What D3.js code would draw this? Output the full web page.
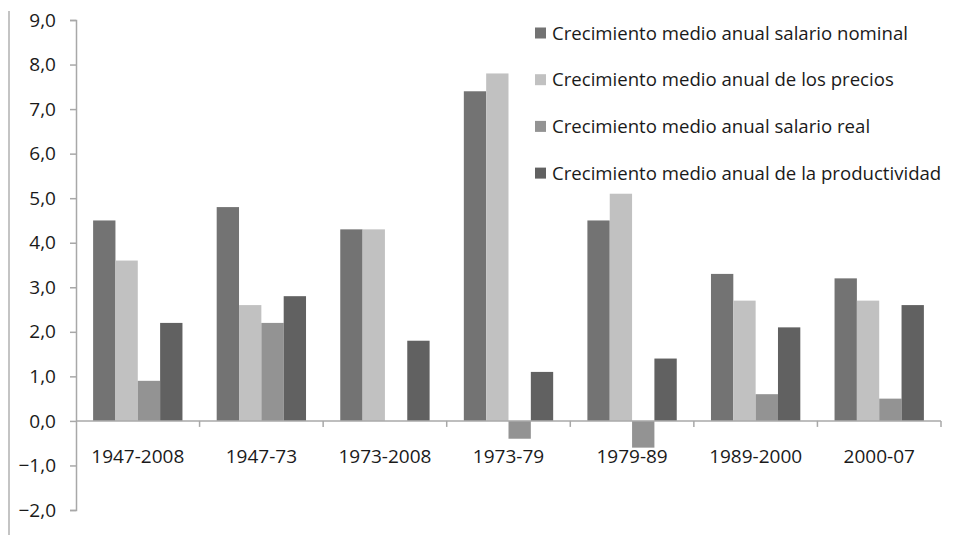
<!DOCTYPE html>
<html>
<head>
<meta charset="utf-8">
<script src="https://cdn.jsdelivr.net/npm/d3@7"></script>
<style>
  body { margin: 0; background: #fff; }
  svg { display: block; font-family: "Open Sans", Lato, sans-serif; }
</style>
</head>
<body>
<svg id="chart" width="957" height="535"></svg>
<script>
// periods on the x axis
var periods = ["1947-2008", "1947-73", "1973-2008", "1973-79", "1979-89", "1989-2000", "2000-07"];

// series names (legend)
var seriesNames = [
    "Crecimiento medio anual salario nominal",
    "Crecimiento medio anual de los precios",
    "Crecimiento medio anual salario real",
    "Crecimiento medio anual de la productividad"
];

// values per series, one per period
var nominal = [4.5, 4.8, 4.3, 7.4, 4.5, 3.3, 3.2];
var precios = [3.6, 2.6, 4.3, 7.8, 5.1, 2.7, 2.7];
var real = [0.9, 2.2, 0.0, -0.4, -0.6, 0.6, 0.5];
var productividad = [2.2, 2.8, 1.8, 1.1, 1.4, 2.1, 2.6];

var yTicks = [-2, -1, 0, 1, 2, 3, 4, 5, 6, 7, 8, 9];

var seriesValues = [nominal, precios, real, productividad];
var colors = ["#737373", "#c1c1c1", "#939393", "#616161"];

let svg = d3.select("#chart");

// thin border line on the far left
svg.append("line")
    .attr("x1", 9).attr("x2", 9)
    .attr("y1", 11).attr("y2", 535)
    .attr("stroke", "#b0b0b0")
    .attr("stroke-width", 1.5);

let plotLeft = 76, plotRight = 941, plotTop = 20, plotBottom = 510;

let x0 = d3.scaleBand()
    .domain(periods)
    .range([plotLeft, plotRight])
    .paddingInner(0.277)
    .paddingOuter(0.1385);

let x1 = d3.scaleBand()
    .domain(d3.range(seriesValues.length))
    .range([0, x0.bandwidth()]);

let y = d3.scaleLinear()
    .domain([-2, 9])
    .range([plotBottom, plotTop]);

let fmt = d => d3.format(".1f")(d).replace(".", ",");

// bars
let groups = svg.append("g")
    .selectAll("g")
    .data(periods)
    .enter()
    .append("g")
    .attr("transform", d => "translate(" + x0(d) + ",0)");

groups.selectAll("rect")
    .data((p, i) => seriesValues.map((s, k) => ({k: k, v: s[i]})))
    .enter()
    .append("rect")
    .attr("x", d => x1(d.k))
    .attr("width", x1.bandwidth())
    .attr("y", d => y(Math.max(0, d.v)))
    .attr("height", d => Math.abs(y(d.v) - y(0)))
    .attr("fill", d => colors[d.k]);

// y axis
let yAxis = svg.append("g")
    .attr("transform", "translate(" + plotLeft + ",0)")
    .call(d3.axisLeft(y).tickValues(yTicks).tickFormat(fmt).tickSize(6).tickPadding(14));

// x axis at zero, ticks between groups
let xAxis = svg.append("g")
    .attr("transform", "translate(0," + y(0) + ")");

xAxis.append("line")
    .attr("x1", plotLeft).attr("x2", plotRight)
    .attr("stroke", "#a8a8a8")
    .attr("stroke-width", 1.5);

let bounds = periods.map(p => x0(p) - x0.step() * x0.paddingInner() / 2).concat([plotRight]);
xAxis.selectAll("line.tk")
    .data(bounds.slice(1))
    .enter()
    .append("line")
    .attr("class", "tk")
    .attr("x1", d => d).attr("x2", d => d)
    .attr("y1", 0).attr("y2", 6)
    .attr("stroke", "#a8a8a8")
    .attr("stroke-width", 1.5);

xAxis.selectAll("text")
    .data(periods)
    .enter()
    .append("text")
    .attr("x", d => x0(d) + x0.bandwidth() / 2)
    .attr("y", 42)
    .attr("text-anchor", "middle")
    .attr("font-size", 19)
    .attr("fill", "#1a1a1a")
    .text(d => d);

yAxis.select(".domain").attr("stroke", "#a8a8a8").attr("stroke-width", 1.5);
yAxis.selectAll(".tick line").attr("stroke", "#a8a8a8").attr("stroke-width", 1.5);
yAxis.selectAll(".tick text").attr("font-size", 19).attr("fill", "#1a1a1a").attr("font-family", "'Open Sans', sans-serif");

// legend
let legend = svg.append("g")
    .selectAll("g")
    .data(seriesNames)
    .enter()
    .append("g")
    .attr("transform", (d, i) => "translate(535," + (33 + i * 46.7) + ")");

legend.append("rect")
    .attr("x", 0).attr("y", -5.5)
    .attr("width", 11).attr("height", 11)
    .attr("fill", (d, i) => colors[i]);

legend.append("text")
    .attr("x", 17)
    .attr("dy", "0.35em")
    .attr("font-size", 18.6)
    .attr("fill", "#1a1a1a")
    .text(d => d);
</script>
</body>
</html>
